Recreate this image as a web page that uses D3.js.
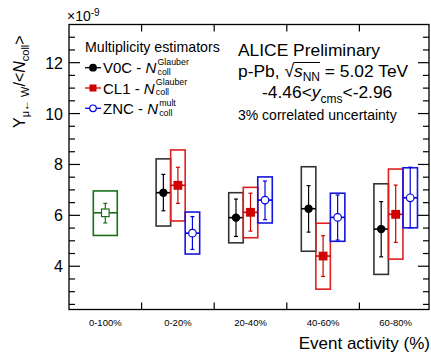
<!DOCTYPE html>
<html><head><meta charset="utf-8">
<script src="https://cdn.jsdelivr.net/npm/d3@7"></script>
<style>body{margin:0;background:#fff}svg{display:block;font-family:"Liberation Sans",Arial,sans-serif}</style>
</head><body><svg id="c" width="431" height="353"></svg>
<script>
const categories = ["0-100%","0-20%","20-40%","40-60%","60-80%"];
const seriesNames = ["V0C","CL1","ZNC"];
// values per centrality class (0-20 .. 60-80): value, stat [low, high], sys [low, high]
const v0cVal = [6.89, 5.91, 6.26, 5.46];
const v0cStat = [[6.18,7.61],[5.17,6.64],[5.34,7.17],[4.37,6.54]];
const v0cSys = [[5.58,8.22],[4.92,6.89],[4.59,7.91],[3.68,7.24]];
const cl1Val = [7.18, 6.12, 4.40, 6.04];
const cl1Stat = [[6.47,7.89],[5.38,6.87],[3.60,5.20],[4.94,7.19]];
const cl1Sys = [[5.78,8.57],[5.12,7.10],[3.10,5.69],[4.28,7.82]];
const zncVal = [5.30, 6.60, 5.92, 6.69];
const zncStat = [[4.66,5.95],[5.83,7.35],[5.03,6.80],[5.51,7.89]];
const zncSys = [[4.48,6.13],[5.70,7.51],[4.98,6.87],[5.51,7.87]];
const mbVal = 6.10, mbStat = [5.70,6.47], mbSys = [5.21,6.96];
const yTicks = [4,6,8,10,12];

const svg = d3.select("#c");
const L=69, R=429, T=24.5, B=309.5;
const x = d3.scaleBand().domain(categories).range([L, L+5*72.6]);
const y = d3.scaleLinear().domain([2.3, 13.5]).range([B, T]);
const bw = x.bandwidth();

// frame
svg.append("rect").attr("x",L).attr("y",T).attr("width",R-L).attr("height",B-T)
  .attr("fill","none").attr("stroke","#000").attr("stroke-width",1.3);

// y ticks
d3.range(2.5, 13.5, 0.5).forEach(v=>{
  const isMaj = Number.isInteger(v) && v%2===0;
  const len = isMaj ? 11 : 6;
  svg.append("line").attr("x1",L).attr("x2",L+len).attr("y1",y(v)).attr("y2",y(v)).attr("stroke","#000").attr("stroke-width",1.2);
  svg.append("line").attr("x1",R).attr("x2",R-len).attr("y1",y(v)).attr("y2",y(v)).attr("stroke","#000").attr("stroke-width",1.2);
});
yTicks.forEach(v=>{
  svg.append("text").attr("x",L-6).attr("y",y(v)+6).attr("text-anchor","end").attr("font-size",16).text(v);
});
// x ticks at band boundaries
categories.slice(1).forEach(c=>{
  const xx = x(c);
  svg.append("line").attr("x1",xx).attr("x2",xx).attr("y1",B).attr("y2",B-7).attr("stroke","#000").attr("stroke-width",1.2);
  svg.append("line").attr("x1",xx).attr("x2",xx).attr("y1",T).attr("y2",T+7).attr("stroke","#000").attr("stroke-width",1.2);
});
categories.forEach(c=>{
  svg.append("text").attr("x",x(c)+bw/2).attr("y",326).attr("text-anchor","middle").attr("font-size",9.5).text(c);
});

// exponent
const ex = svg.append("text").attr("x",67).attr("y",21).attr("font-size",14);
ex.append("tspan").text("×10");
ex.append("tspan").attr("dy",-5).attr("font-size",10).text("-9");

// axis titles
svg.append("text").attr("x",430).attr("y",349).attr("text-anchor","end").attr("font-size",17).text("Event activity (%)");
const yl = svg.append("text").attr("transform","translate(25,128) rotate(-90)").attr("font-size",16);
yl.append("tspan").text("Y");
yl.append("tspan").attr("dy",4).attr("font-size",11).text("μ← W");
yl.append("tspan").attr("dy",-4).text("/<");
yl.append("tspan").attr("font-style","italic").text("N");
yl.append("tspan").attr("dy",4).attr("font-size",11).text("coll");
yl.append("tspan").attr("dy",-4).text(">");

// data drawing
const colors = {V0C:{c:"#000",b:"#333"}, CL1:{c:"#d00000",b:"#e02020"}, ZNC:{c:"#0000e0",b:"#1515e0"}};
const series = [
  {name:"V0C", val:v0cVal, stat:v0cStat, sys:v0cSys, off:-0.2, marker:"circle", fill:true},
  {name:"CL1", val:cl1Val, stat:cl1Stat, sys:cl1Sys, off:0, marker:"square", fill:true},
  {name:"ZNC", val:zncVal, stat:zncStat, sys:zncSys, off:0.2, marker:"circle", fill:false}
];
function drawPoint(g, cx, v, stat, sys, col, bcol, boxW, marker, fill){
  g.append("rect").attr("x",cx-boxW/2).attr("y",y(sys[1])).attr("width",boxW).attr("height",y(sys[0])-y(sys[1]))
    .attr("fill","none").attr("stroke",bcol).attr("stroke-width",1.6);
  g.append("line").attr("x1",cx-boxW/2).attr("x2",cx+boxW/2).attr("y1",y(v)).attr("y2",y(v)).attr("stroke",col).attr("stroke-width",1.6);
  g.append("line").attr("x1",cx).attr("x2",cx).attr("y1",y(stat[0])).attr("y2",y(stat[1])).attr("stroke",col).attr("stroke-width",1.2);
  [stat[0],stat[1]].forEach(s=>g.append("line").attr("x1",cx-2).attr("x2",cx+2).attr("y1",y(s)).attr("y2",y(s)).attr("stroke",col).attr("stroke-width",1.2));
  if(marker==="circle"){
    g.append("circle").attr("cx",cx).attr("cy",y(v)).attr("r",fill?3.6:3.8).attr("fill",fill?col:"#fff").attr("stroke",col).attr("stroke-width",1.2);
  } else {
    g.append("rect").attr("x",cx-3.8).attr("y",y(v)-3.8).attr("width",7.6).attr("height",7.6).attr("fill",fill?col:"#fff").attr("stroke",col).attr("stroke-width",1.2);
  }
}
const gData = svg.append("g");
drawPoint(gData, x(categories[0])+bw/2, mbVal, mbStat, mbSys, "#1a6e1a", "#1a6e1a", bw*0.33, "square", false);
series.forEach(s=>{
  s.val.forEach((v,i)=>{
    const cx = x(categories[i+1])+bw/2 + s.off*bw;
    drawPoint(gData, cx, v, s.stat[i], s.sys[i], colors[s.name].c, colors[s.name].b, bw*0.2, s.marker, s.fill);
  });
});

// legend
svg.append("text").attr("x",85).attr("y",52).attr("font-size",14.2).text("Multiplicity estimators");
const legSup = ["Glauber","Glauber","mult"];
series.forEach((s,i)=>{
  const cy = 67.7 + i*20.3;
  const col = colors[s.name].c;
  svg.append("line").attr("x1",85).attr("x2",101).attr("y1",cy).attr("y2",cy).attr("stroke",col).attr("stroke-width",1.3);
  if(s.marker==="circle") svg.append("circle").attr("cx",93).attr("cy",cy).attr("r",3.3).attr("fill",s.fill?col:"#fff").attr("stroke",col).attr("stroke-width",1.2);
  else svg.append("rect").attr("x",89.5).attr("y",cy-3.5).attr("width",7).attr("height",7).attr("fill",col);
  const t = svg.append("text").attr("x",103).attr("y",cy+5.5).attr("font-size",15);
  t.append("tspan").text(s.name+" - ");
  t.append("tspan").attr("font-style","italic").text("N");
  const bb = t.node().getBBox();
  const xe = bb.x+bb.width+1;
  svg.append("text").attr("x",xe).attr("y",cy-2.8).attr("font-size",8.8).text(legSup[i]);
  svg.append("text").attr("x",xe).attr("y",cy+7.35).attr("font-size",8.8).text("coll");
});

// ALICE labels
svg.append("text").attr("x",238).attr("y",56).attr("font-size",17.4).text("ALICE Preliminary");
const pp = svg.append("text").attr("x",238).attr("y",77).attr("font-size",17.4);
pp.append("tspan").text("p-Pb, ");
pp.append("tspan").text("√");
pp.append("tspan").attr("font-style","italic").text("s");
pp.append("tspan").attr("dy",4).attr("font-size",12).text("NN");
pp.append("tspan").attr("dy",-4).text(" = 5.02 TeV");
{
  const txt = pp.node();
  const n1 = "p-Pb, ".length;
  const b1 = txt.getExtentOfChar(n1);
  const b2 = txt.getExtentOfChar(n1+3);
  svg.append("line").attr("x1",b1.x+b1.width-0.5).attr("x2",b2.x+b2.width).attr("y1",b1.y+1.5).attr("y2",b1.y+1.5).attr("stroke","#000").attr("stroke-width",1);
}
const yc = svg.append("text").attr("x",262).attr("y",98).attr("font-size",17.4);
yc.append("tspan").text("-4.46<");
yc.append("tspan").attr("font-style","italic").text("y");
yc.append("tspan").attr("dy",5).attr("font-size",12).text("cms");
yc.append("tspan").attr("dy",-5).text("<-2.96");
svg.append("text").attr("x",238).attr("y",120).attr("font-size",14).text("3% correlated uncertainty");
</script></body></html>
